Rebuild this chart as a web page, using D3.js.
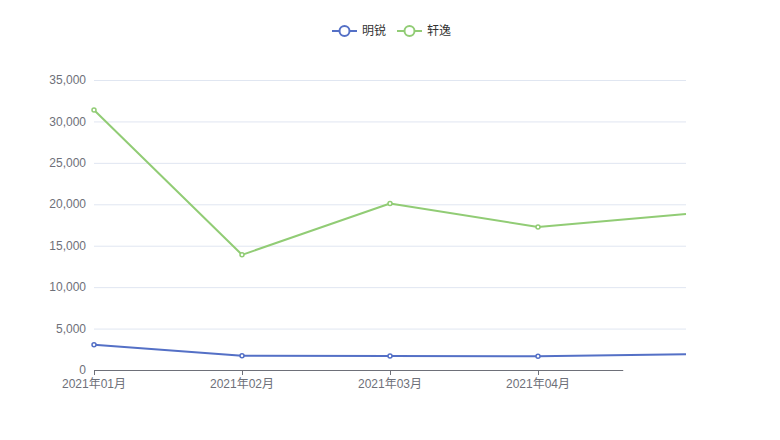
<!DOCTYPE html>
<html><head><meta charset="utf-8">
<script src="https://cdn.jsdelivr.net/npm/d3@7/dist/d3.min.js"></script>
<style>body{margin:0;background:#fff}svg{display:block}</style>
</head><body><svg id="c" width="780" height="440"></svg>
<script>
const categories = ["2021年01月","2021年02月","2021年03月","2021年04月","2021年05月"];
const seriesNames = ["明锐","轩逸"];
const mingrui = [3050, 1730, 1690, 1650, 1890];
const xuanyi = [31380, 13900, 20100, 17250, 18820];
const yTicks = [0,5000,10000,15000,20000,25000,30000,35000];
const colors = ["#5470c6","#91cc75"];
const labelledCount = 4;      // labels/ticks/markers visible in the reference
const axisReveal = 0.894;     // portion of x-axis line drawn in reference

const svg = d3.select("#c");
const font = "'Liberation Sans','Noto Sans CJK SC',sans-serif";
const m = {left:94, right:94, top:80, bottom:70};
const W = 780, H = 440;
const x = d3.scalePoint().domain(categories).range([m.left, W - m.right]);
const y = d3.scaleLinear().domain([0, 35000]).range([H - m.bottom, m.top]);

// grid
svg.append("g").selectAll("line").data(yTicks.filter(d=>d>0)).join("line")
  .attr("x1", m.left).attr("x2", W - m.right)
  .attr("y1", d=>y(d)+0.5).attr("y2", d=>y(d)+0.5)
  .attr("stroke", "#E0E6F1").attr("stroke-width", 1);

// y labels
svg.append("g").selectAll("text").data(yTicks).join("text")
  .attr("x", m.left - 8).attr("y", d=>y(d)).attr("dy", "0.35em")
  .attr("text-anchor", "end").attr("font-family", font).attr("font-size", 12)
  .attr("fill", "#6E7079").text(d=>d3.format(",")(d));

// x axis line
const x0 = x.range()[0], x1 = x.range()[1];
svg.append("line").attr("x1", x0).attr("x2", x0 + (x1 - x0)*axisReveal)
  .attr("y1", y(0)+0.5).attr("y2", y(0)+0.5).attr("stroke", "#6E7079").attr("stroke-width", 1);
const shown = categories.slice(0, labelledCount);
svg.append("g").selectAll("line").data(shown).join("line")
  .attr("x1", d=>Math.round(x(d))+0.5).attr("x2", d=>Math.round(x(d))+0.5)
  .attr("y1", y(0)).attr("y2", y(0)+5).attr("stroke", "#6E7079");
svg.append("g").selectAll("text").data(shown).join("text")
  .attr("x", d=>x(d)).attr("y", y(0)+14).attr("dy", "0.35em")
  .attr("text-anchor", "middle").attr("font-family", font).attr("font-size", 12)
  .attr("fill", "#6E7079").text(d=>d);

// lines
const series = [mingrui, xuanyi];
const line = d3.line().x((d,i)=>x(categories[i])).y(d=>y(d));
series.forEach((s, k) => {
  svg.append("path").datum(s).attr("d", line).attr("fill", "none")
    .attr("stroke", colors[k]).attr("stroke-width", 2).attr("stroke-linejoin", "round");
  svg.append("g").selectAll("circle").data(s.slice(0, labelledCount)).join("circle")
    .attr("cx", (d,i)=>x(categories[i])).attr("cy", d=>y(d)).attr("r", 2)
    .attr("fill", "#fff").attr("stroke", colors[k]).attr("stroke-width", 1.5);
});

// legend
const legend = svg.append("g");
const itemW = [65, 0];
let lx = 332;
seriesNames.forEach((n, k) => {
  const g = legend.append("g").attr("transform", `translate(${lx},31)`);
  g.append("line").attr("x1", 0).attr("x2", 25).attr("y1", 0).attr("y2", 0)
    .attr("stroke", colors[k]).attr("stroke-width", 2);
  g.append("circle").attr("cx", 12.5).attr("cy", 0).attr("r", 5)
    .attr("fill", "#fff").attr("stroke", colors[k]).attr("stroke-width", 2);
  g.append("text").attr("x", 30).attr("y", 0).attr("dy", "0.35em")
    .attr("font-family", font).attr("font-size", 12).attr("fill", "#333").text(n);
  lx += itemW[k];
});
</script></body></html>
